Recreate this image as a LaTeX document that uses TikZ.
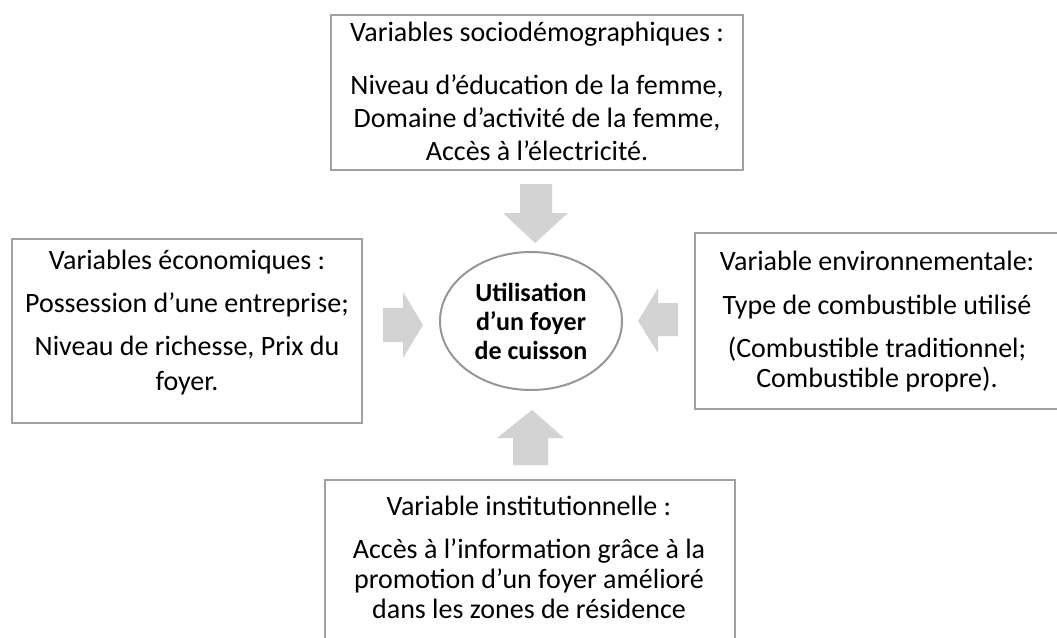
\documentclass[tikz,border=0pt]{standalone}
\usepackage{fontspec}
\setmainfont{Carlito}
\usetikzlibrary{shapes.geometric}
\definecolor{boxline}{RGB}{160,160,160}
\definecolor{ellline}{RGB}{150,150,150}
\definecolor{arrowfill}{RGB}{211,211,211}
\tikzset{
  box/.style={draw=boxline, line width=2.4pt, fill=white},
  boxtext/.style={anchor=north, align=center, inner sep=0pt, font=\fontsize{28}{30}\selectfont},
  centretext/.style={align=center, inner sep=0pt, font=\fontsize{26}{29}\selectfont\bfseries},
  blockarrow/.style={fill=arrowfill, draw=none},
}
\begin{document}
\begin{tikzpicture}[x=1pt, y=-1pt]
\useasboundingbox (0,0) rectangle (1057,637);

% boxes
\draw[box] (331,15) rectangle (743,170);
\draw[box] (12,239) rectangle (362,423);
\draw[box] (695,233) rectangle (1064,409);
\draw[box] (325,480) rectangle (735,650);

% texts
\node[boxtext] (soc) at (537,22) {Variables sociodémographiques :\\[23pt]
  Niveau d’éducation de la femme,\\[3pt]
  Domaine d’activité de la femme,\\[3pt]
  Accès à l’électricité.};
\node[boxtext] (eco) at (187,250) {Variables économiques :\\[13pt]
  Possession d’une entreprise;\\[13pt]
  Niveau de richesse, Prix du\\[5pt]
  foyer.};
\node[boxtext] (env) at (877,251) {Variable environnementale:\\[14pt]
  Type de combustible utilisé\\[13pt]
  (Combustible traditionnel;\\
  Combustible propre).};
\node[boxtext] (ins) at (529,496) {Variable institutionnelle :\\[13pt]
  Accès à l’information grâce à la\\
  promotion d’un foyer amélioré\\
  dans les zones de résidence};

% centre
\node[draw=ellline, line width=2pt, ellipse, minimum width=182pt, minimum height=138pt, inner sep=0pt] (use) at (531,321) {};
\node[centretext] (uset) at (531,321) {Utilisation\\d’un foyer\\de cuisson};

% block arrows
\fill[blockarrow] (520,184) -- (552,184) -- (552,213) -- (568,213) -- (535,243) -- (503,213) -- (520,213) -- cycle;
\fill[blockarrow] (513,465) -- (548,465) -- (548,438) -- (564,438) -- (532,410) -- (497,438) -- (513,438) -- cycle;
\fill[blockarrow] (383,308) -- (403,308) -- (403,292) -- (423,325) -- (403,358) -- (403,342) -- (383,342) -- cycle;
\fill[blockarrow] (678,303) -- (658,303) -- (658,288) -- (638,321) -- (658,353) -- (658,336) -- (678,336) -- cycle;
\end{tikzpicture}
\end{document}
